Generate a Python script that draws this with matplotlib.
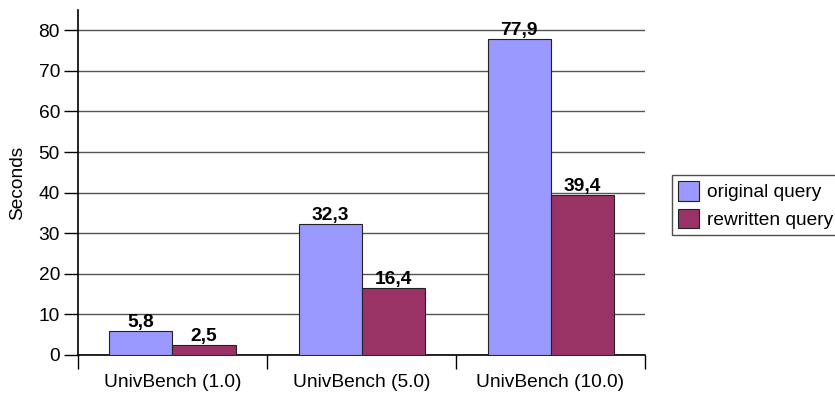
import numpy as np
import matplotlib
matplotlib.use("Agg")
from matplotlib import pyplot as plt

categories = ["UnivBench (1.0)", "UnivBench (5.0)", "UnivBench (10.0)"]
original = [5.8, 32.3, 77.9]
rewritten = [2.5, 16.4, 39.4]
series_names = ["original query", "rewritten query"]

plt.rcParams['font.family'] = ['Liberation Sans', 'DejaVu Sans']
FS = 13.8

fig = plt.figure(figsize=(8.35, 3.95), dpi=100)
ax = fig.add_axes([0.0934, 0.1013, 0.6791, 0.8734])

x = np.arange(len(categories))
w = 1 / 3
b1 = ax.bar(x - w / 2, original, w, color="#9999FF", edgecolor="#222222", linewidth=0.8,
            label=series_names[0], zorder=3)
b2 = ax.bar(x + w / 2, rewritten, w, color="#993366", edgecolor="#222222", linewidth=0.8,
            label=series_names[1], zorder=3)

for bars in (b1, b2):
    for r in bars:
        v = r.get_height()
        ax.annotate(("%.1f" % v).replace(".", ","), (r.get_x() + r.get_width() / 2, v),
                    xytext=(0, 0), textcoords="offset points", ha="center", va="bottom",
                    fontsize=FS, fontweight="bold", zorder=4)

ax.set_xlim(-0.5, len(categories) - 0.5)
ax.set_ylim(0, 85)
ax.set_yticks(np.arange(0, 81, 10))
ax.yaxis.grid(True, color="#555555", linewidth=1.0, zorder=0)
ax.tick_params(axis="y", length=10, width=1, labelsize=FS, pad=3)

# boundary ticks below the axis, labels at group centres
ax.set_xticks(np.arange(-0.5, len(categories) + 0.5, 1))
ax.set_xticklabels([])
ax.set_xticks(x, minor=True)
ax.set_xticklabels(categories, minor=True)
ax.tick_params(axis="x", which="major", length=10, width=1)
ax.tick_params(axis="x", which="minor", length=0, labelsize=FS, pad=14)

for s in ("top", "right"):
    ax.spines[s].set_visible(False)
ax.spines["left"].set_linewidth(1.2)
ax.spines["bottom"].set_linewidth(1.2)

ax.set_ylabel("Seconds", fontsize=FS, labelpad=9)

leg = fig.legend(handles=[b1, b2], loc="center left", bbox_to_anchor=(0.805, 0.481),
                 fontsize=FS, frameon=True, fancybox=False, edgecolor="#222222",
                 handlelength=1.1, handleheight=1.2, handletextpad=0.4,
                 borderpad=0.3, labelspacing=0.4, borderaxespad=0)
leg.get_frame().set_linewidth(1.0)

fig.savefig("out.png", dpi=100)
